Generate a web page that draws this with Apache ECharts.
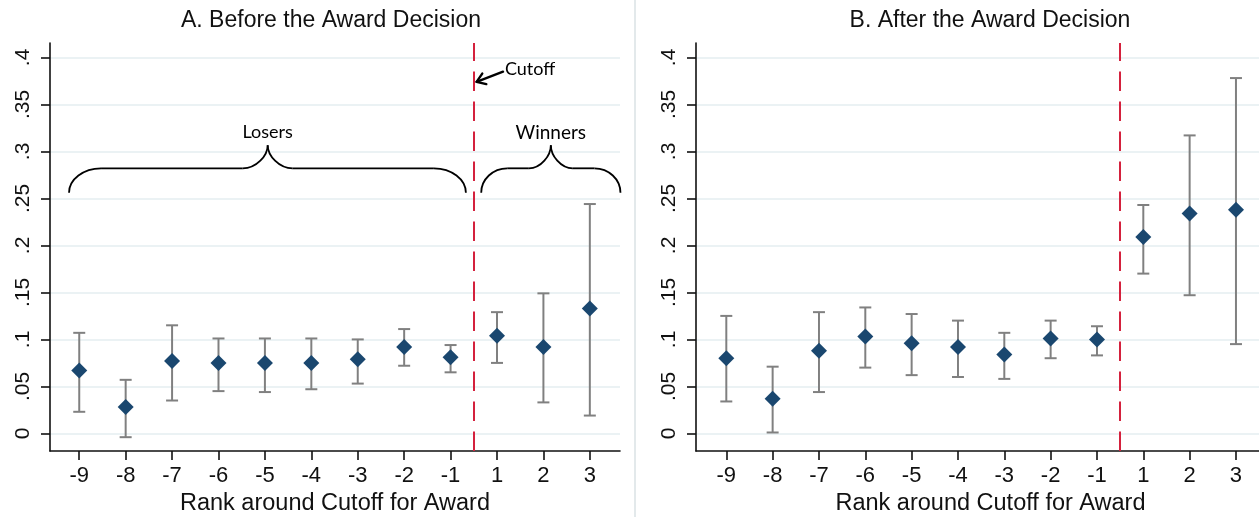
<!DOCTYPE html>
<html>
<head>
<meta charset="utf-8">
<script src="https://cdn.jsdelivr.net/npm/echarts@6/dist/echarts.min.js"></script>
<style>
  html, body { margin: 0; padding: 0; background: #fff; }
  #chart { width: 1259px; height: 517px; }
</style>
</head>
<body>
<div id="chart"></div>
<script>
// Rank categories around the award cutoff (no rank 0)
const ranks = ['-9', '-8', '-7', '-6', '-5', '-4', '-3', '-2', '-1', '1', '2', '3'];
const yTicks = [0, 0.05, 0.1, 0.15, 0.2, 0.25, 0.3, 0.35, 0.4];
const yTickLabels = ['0', '.05', '.1', '.15', '.2', '.25', '.3', '.35', '.4'];

// Panel A: before the award decision (point estimate, CI low, CI high)
const beforeEst = [0.067, 0.028, 0.077, 0.075, 0.075, 0.075, 0.079, 0.092, 0.081, 0.104, 0.092, 0.133];
const beforeLo  = [0.023, -0.004, 0.035, 0.045, 0.044, 0.047, 0.053, 0.072, 0.065, 0.075, 0.033, 0.019];
const beforeHi  = [0.107, 0.057, 0.115, 0.101, 0.101, 0.101, 0.100, 0.111, 0.094, 0.129, 0.149, 0.244];

// Panel B: after the award decision
const afterEst = [0.080, 0.037, 0.088, 0.103, 0.096, 0.092, 0.084, 0.101, 0.100, 0.209, 0.234, 0.238];
const afterLo  = [0.034, 0.001, 0.044, 0.070, 0.062, 0.060, 0.058, 0.080, 0.083, 0.170, 0.147, 0.095];
const afterHi  = [0.125, 0.071, 0.129, 0.134, 0.127, 0.120, 0.107, 0.120, 0.114, 0.243, 0.317, 0.378];

// cutoff sits halfway between rank -1 and rank 1
const cutoffPos = ranks.indexOf('-1') + 0.5;

const FONT = '"Liberation Sans", Arial, Helvetica, sans-serif';
const NOTE_FONT = 'Lato, "Open Sans", sans-serif';
const INK = '#111';
const NAVY = '#1a476f';
const BAR_GRAY = '#808080';
const CUT_RED = '#d4213d';
const GRID_LINE = '#e5eef0';

const tickIdx = ranks.map((_, i) => i);

function xAxisFor(gridIndex, min, max, nameShift) {
  return {
    type: 'value', gridIndex, min, max,
    axisLine: { show: true, onZero: false, lineStyle: { color: INK, width: 1.6 } },
    axisTick: { show: true, customValues: tickIdx, length: 9, lineStyle: { color: INK, width: 1.6 } },
    axisLabel: {
      customValues: tickIdx, margin: 14,
      formatter: v => ranks[Math.round(v)],
      fontFamily: FONT, fontSize: 22, color: INK
    },
    splitLine: { show: false },
    name: 'Rank around Cutoff for Award',
    nameLocation: 'middle', nameGap: 40,
    nameTextStyle: { fontFamily: FONT, fontSize: 23.5, color: INK, padding: [0, 0, 0, nameShift] }
  };
}

function yAxisFor(gridIndex) {
  return {
    type: 'value', gridIndex, min: -0.0187, max: 0.4153,
    axisLine: { show: true, onZero: false, lineStyle: { color: INK, width: 1.6 } },
    axisTick: { show: true, customValues: yTicks, length: 9, lineStyle: { color: INK, width: 1.6 } },
    axisLabel: {
      customValues: yTicks, rotate: 90, margin: 16,
      formatter: v => yTickLabels[Math.round(v / 0.05)],
      fontFamily: FONT, fontSize: 21, color: INK
    },
    splitLine: { show: true, lineStyle: { color: GRID_LINE, width: 1.6 } }
  };
}

function errorBars(idx, lo, hi) {
  return {
    type: 'custom',
    xAxisIndex: idx, yAxisIndex: idx,
    data: ranks.map((_, i) => [i, lo[i], hi[i]]),
    encode: { x: 0, y: [1, 2] },
    z: 2,
    renderItem: (params, api) => {
      const x = api.value(0);
      const a = api.coord([x, api.value(1)]);
      const b = api.coord([x, api.value(2)]);
      const hw = 6;
      const st = { stroke: BAR_GRAY, lineWidth: 2 };
      return {
        type: 'group',
        children: [
          { type: 'line', shape: { x1: a[0], y1: a[1], x2: b[0], y2: b[1] }, style: st },
          { type: 'line', shape: { x1: a[0] - hw, y1: a[1], x2: a[0] + hw, y2: a[1] }, style: st },
          { type: 'line', shape: { x1: b[0] - hw, y1: b[1], x2: b[0] + hw, y2: b[1] }, style: st }
        ]
      };
    },
    markLine: {
      silent: true, symbol: ['none', 'none'],
      label: { show: false },
      lineStyle: { color: CUT_RED, type: [19.5, 10.5], width: 2 },
      emphasis: { disabled: true },
      data: [{ xAxis: cutoffPos }]
    }
  };
}

function points(idx, est) {
  return {
    type: 'scatter',
    xAxisIndex: idx, yAxisIndex: idx,
    data: est.map((v, i) => [i, v]),
    symbol: 'diamond', symbolSize: 16,
    itemStyle: { color: NAVY, opacity: 1 },
    z: 3
  };
}

const chart = echarts.init(document.getElementById('chart'), null, { renderer: 'canvas' });

chart.setOption({
  animation: false,
  backgroundColor: '#fff',
  grid: [
    { left: 50, top: 43, width: 570, height: 408, outerBoundsMode: 'none' },
    { left: 696, top: 43, width: 563, height: 408, outerBoundsMode: 'none' }
  ],
  xAxis: [xAxisFor(0, -0.63, 11.65, 0), xAxisFor(1, -0.654, 11.497, 26)],
  yAxis: [yAxisFor(0), yAxisFor(1)],
  series: [
    errorBars(0, beforeLo, beforeHi),
    points(0, beforeEst),
    errorBars(1, afterLo, afterHi),
    points(1, afterEst)
  ]
});

// Annotations: panel titles, brace labels and the cutoff arrow
const px = (gi, x, y) => chart.convertToPixel({ gridIndex: gi }, [x, y]);

function brace(gi, x0, x1, xp, yb, yf, yt, R, R2) {
  const [X0, Yb] = px(gi, x0, yb);
  const [X1] = px(gi, x1, yb);
  const [Xp, Yt] = px(gi, xp, yt);
  const Yf = px(gi, xp, yf)[1];
  const st = { stroke: '#000', lineWidth: 1.8, fill: null };
  const endK = 0.55, topK = 0.55;
  return [
    { type: 'bezierCurve', shape: { x1: X0, y1: Yb, cpx1: X0, cpy1: Yb - (Yb - Yf) * endK, cpx2: X0 + R * 0.45, cpy2: Yf, x2: X0 + R, y2: Yf }, style: st },
    { type: 'line', shape: { x1: X0 + R, y1: Yf, x2: Xp - R2, y2: Yf }, style: st },
    { type: 'bezierCurve', shape: { x1: Xp - R2, y1: Yf, cpx1: Xp - R2 * 0.45, cpy1: Yf, cpx2: Xp, cpy2: Yf - (Yf - Yt) * topK, x2: Xp, y2: Yt }, style: st },
    { type: 'bezierCurve', shape: { x1: Xp, y1: Yt, cpx1: Xp, cpy1: Yf - (Yf - Yt) * topK, cpx2: Xp + R2 * 0.45, cpy2: Yf, x2: Xp + R2, y2: Yf }, style: st },
    { type: 'line', shape: { x1: Xp + R2, y1: Yf, x2: X1 - R, y2: Yf }, style: st },
    { type: 'bezierCurve', shape: { x1: X1 - R, y1: Yf, cpx1: X1 - R * 0.45, cpy1: Yf, cpx2: X1, cpy2: Yb - (Yb - Yf) * endK, x2: X1, y2: Yb }, style: st }
  ];
}

function noteText(gi, x, y, text, align, size) {
  const [X, Y] = px(gi, x, y);
  return {
    type: 'text', x: X, y: Y,
    style: { text, fontFamily: NOTE_FONT, fontSize: size || 18, fill: '#000', align: align || 'center', verticalAlign: 'middle' }
  };
}

function arrow(gi, from, to) {
  const [Ax, Ay] = px(gi, from[0], from[1]);
  const [Bx, By] = px(gi, to[0], to[1]);
  const ang = Math.atan2(By - Ay, Bx - Ax);
  const L = 10, spread = 0.6;
  const h1 = [Bx - L * Math.cos(ang - spread), By - L * Math.sin(ang - spread)];
  const h2 = [Bx - L * Math.cos(ang + spread), By - L * Math.sin(ang + spread)];
  const st = { stroke: '#000', lineWidth: 2.4, fill: null, lineCap: 'round', lineJoin: 'round' };
  return [
    { type: 'line', shape: { x1: Ax, y1: Ay, x2: Bx, y2: By }, style: st },
    { type: 'polyline', shape: { points: [h1, [Bx, By], h2] }, style: st }
  ];
}

const titleStyle = { fontFamily: FONT, fontSize: 23, fill: INK, align: 'center', verticalAlign: 'middle' };

chart.setOption({
  graphic: [
    { type: 'line', shape: { x1: 635, y1: 0, x2: 635, y2: 517 }, style: { stroke: '#e3e9eb', lineWidth: 2 } },
    { type: 'text', x: 331, y: 21, style: Object.assign({ text: 'A. Before the Award Decision' }, titleStyle) },
    { type: 'text', x: 990, y: 21, style: Object.assign({ text: 'B. After the Award Decision' }, titleStyle) },
    ...brace(0, -0.22, 8.33, 4.06, 0.256, 0.282, 0.3066, 32, 25),
    ...brace(0, 8.66, 11.66, 10.16, 0.256, 0.282, 0.3066, 26, 22),
    noteText(0, 4.06, 0.32, 'Losers'),
    noteText(0, 10.16, 0.32, 'Winners', 'center', 19),
    noteText(0, 9.17, 0.3877, 'Cutoff', 'left'),
    ...arrow(0, [9.13, 0.3848], [8.56, 0.374])
  ]
});
</script>
</body>
</html>
